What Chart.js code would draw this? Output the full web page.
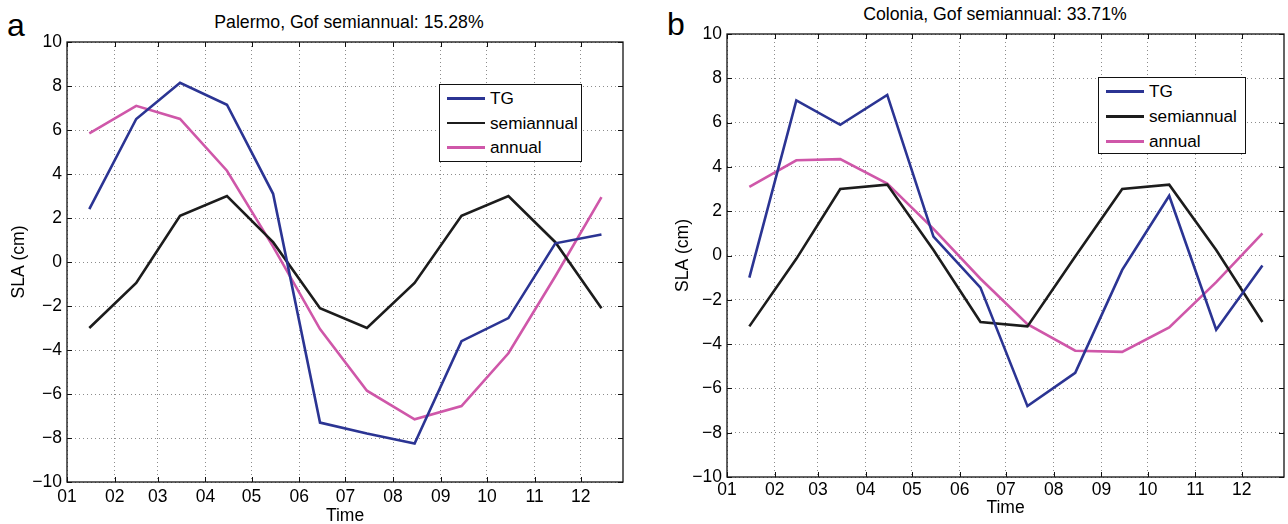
<!DOCTYPE html>
<html>
<head>
<meta charset="utf-8">
<script src="https://cdn.jsdelivr.net/npm/chart.js@4.4.1/dist/chart.umd.min.js"></script>
<style>
  html, body { margin: 0; padding: 0; background: #fff; }
  body { width: 1288px; height: 524px; position: relative; overflow: hidden; font-family: "Liberation Sans", Arial, sans-serif; color: #000; }
  .cv { position: absolute; top: 0; }
  .txt { position: absolute; white-space: nowrap; }
  .title { font-size: 17.7px; line-height: 20px; text-align: center; }
  .letter { font-size: 32px; line-height: 32px; }
  .legend { position: absolute; background: #fff; border: 1.5px solid #111; box-sizing: border-box; font-size: 17.2px; }
  .legend .row { position: absolute; left: 0; height: 20px; line-height: 20px; }
  .legend .sw { position: absolute; left: 7px; top: 9px; width: 38px; height: 2.5px; }
  .legend .lb { position: absolute; left: 50px; top: 0; }
</style>
</head>
<body>
<div class="txt letter" style="left:7px; top:9px;">a</div>
<div class="txt letter" style="left:667px; top:8px;">b</div>
<div class="txt title" id="t0" style="left:149px; width:400px; top:12px;"></div>
<div class="txt title" id="t1" style="left:795px; width:400px; top:4px;"></div>
<canvas id="c0" class="cv" style="left:0px;" width="640" height="524"></canvas>
<canvas id="c1" class="cv" style="left:640px;" width="648" height="524"></canvas>
<div class="legend" id="lg0" style="left:439px; top:84px; width:143px; height:78px;"></div>
<div class="legend" id="lg1" style="left:1098px; top:77px; width:148px; height:77px;"></div>
<script>
// ---- data ----
const monthLabels = ['01','02','03','04','05','06','07','08','09','10','11','12'];
const monthStartDays = [0, 31, 59, 90, 120, 151, 181, 212, 243, 273, 304, 334];
const sampleDays = [14.5, 45, 73.5, 104, 134, 164.5, 195, 226, 256.5, 287, 317.5, 347.5];
const seriesNames = ['TG', 'semiannual', 'annual'];
const seriesColors = ['#2b3493', '#1c1c1c', '#cf57a9'];
const panelTitles = ['Palermo, Gof semiannual: 15.28%', 'Colonia, Gof semiannual: 33.71%'];

const palermoTG     = [2.4, 6.5, 8.15, 7.15, 3.1, -7.3, -7.8, -8.25, -3.6, -2.55, 0.85, 1.25];
const palermoSemi   = [-3.0, -0.95, 2.1, 3.0, 0.9, -2.1, -3.0, -0.95, 2.1, 3.0, 0.9, -2.1];
const palermoAnnual = [5.85, 7.1, 6.5, 4.15, 0.7, -3.05, -5.85, -7.15, -6.55, -4.15, -0.65, 2.95];

const coloniaTG     = [-1.0, 7.0, 5.9, 7.25, 0.85, -1.45, -6.8, -5.3, -0.65, 2.7, -3.35, -0.45];
const coloniaSemi   = [-3.2, -0.15, 3.0, 3.2, 0.25, -3.0, -3.2, -0.05, 3.0, 3.2, 0.25, -3.0];
const coloniaAnnual = [3.1, 4.3, 4.35, 3.25, 1.2, -1.05, -3.1, -4.3, -4.35, -3.25, -1.2, 1.0];

const yMin = -10, yMax = 10, yStep = 2;
const xMin = 0, xMax = 361.5;

// ---- helpers ----
const FONT = "'Liberation Sans', Arial, Helvetica, sans-serif";
const FS = 17.5;
function pts(vals) { return vals.map((v, i) => ({ x: sampleDays[i], y: v })); }

const frameTicks = {
  id: 'frameTicks',
  afterDraw(chart) {
    const { ctx, chartArea: a, scales } = chart;
    ctx.save();
    ctx.strokeStyle = '#111';
    ctx.lineWidth = 1;
    const L = 5;
    ctx.beginPath();
    scales.x.ticks.forEach(t => {
      const px = Math.round(scales.x.getPixelForValue(t.value)) + 0.5;
      ctx.moveTo(px, a.bottom); ctx.lineTo(px, a.bottom - L);
      ctx.moveTo(px, a.top); ctx.lineTo(px, a.top + L);
    });
    scales.y.ticks.forEach(t => {
      const py = Math.round(scales.y.getPixelForValue(t.value)) + 0.5;
      ctx.moveTo(a.left, py); ctx.lineTo(a.left + L, py);
      ctx.moveTo(a.right, py); ctx.lineTo(a.right - L, py);
    });
    ctx.stroke();
    ctx.lineWidth = 1.3;
    ctx.strokeRect(a.left, a.top, a.right - a.left, a.bottom - a.top);
    ctx.restore();
  }
};

function makeChart(canvasId, seriesList, geom) {
  const datasets = seriesList.map((vals, i) => ({
    label: seriesNames[i],
    data: pts(vals),
    borderColor: seriesColors[i],
    backgroundColor: seriesColors[i],
    borderWidth: 2.6,
    pointRadius: 0,
    tension: 0,
    fill: false
  }));
  return new Chart(document.getElementById(canvasId), {
    type: 'line',
    data: { datasets },
    plugins: [frameTicks],
    options: {
      responsive: false,
      animation: false,
      events: [],
      layout: { padding: { top: geom.top, right: geom.right, left: 0, bottom: 0 } },
      plugins: { legend: { display: false }, title: { display: false }, tooltip: { enabled: false } },
      scales: {
        x: {
          type: 'linear', min: xMin, max: xMax,
          afterBuildTicks: s => { s.ticks = monthStartDays.map(v => ({ value: v })); },
          afterFit: s => { s.height = geom.xH; },
          ticks: {
            autoSkip: false, maxRotation: 0, padding: geom.xPad, color: '#000',
            font: { family: FONT, size: FS },
            callback: (v, i) => monthLabels[i]
          },
          grid: { color: 'rgba(0,0,0,0.45)', lineWidth: 1, drawTicks: false },
          border: { display: false, dash: [1, 3] },
          title: { display: true, text: 'Time', color: '#000', font: { family: FONT, size: FS, lineHeight: 1 }, padding: { top: 0, bottom: geom.timePad } }
        },
        y: {
          min: yMin, max: yMax,
          afterFit: s => { s.width = geom.yW; },
          ticks: {
            stepSize: yStep, padding: 5, color: '#000',
            font: { family: FONT, size: FS },
            callback: v => String(v).replace('-', '\u2212')
          },
          grid: { color: 'rgba(0,0,0,0.45)', lineWidth: 1, drawTicks: false },
          border: { display: false, dash: [1, 3] },
          title: { display: true, text: 'SLA (cm)', color: '#000', font: { family: FONT, size: FS, lineHeight: 1 }, padding: { top: geom.slaPad, bottom: 0 } }
        }
      }
    }
  });
}

function makeLegend(id, rowTops) {
  const el = document.getElementById(id);
  seriesNames.forEach((n, i) => {
    const row = document.createElement('div');
    row.className = 'row';
    row.style.top = rowTops[i] + 'px';
    const sw = document.createElement('div');
    sw.className = 'sw'; sw.style.background = seriesColors[i];
    const lb = document.createElement('div');
    lb.className = 'lb'; lb.textContent = n;
    row.appendChild(sw); row.appendChild(lb);
    el.appendChild(row);
  });
}

document.getElementById('t0').textContent = panelTitles[0];
document.getElementById('t1').textContent = panelTitles[1];

makeChart('c0', [palermoTG, palermoSemi, palermoAnnual], { top: 42, right: 17, xH: 42, yW: 67, xPad: 5, timePad: -1, slaPad: 10.5 });
makeChart('c1', [coloniaTG, coloniaSemi, coloniaAnnual], { top: 34, right: 4, xH: 47, yW: 87, xPad: 3, timePad: 7.5, slaPad: 34.5 });

makeLegend('lg0', [3, 27.5, 52]);
makeLegend('lg1', [3, 28, 53]);
</script>
</body>
</html>
